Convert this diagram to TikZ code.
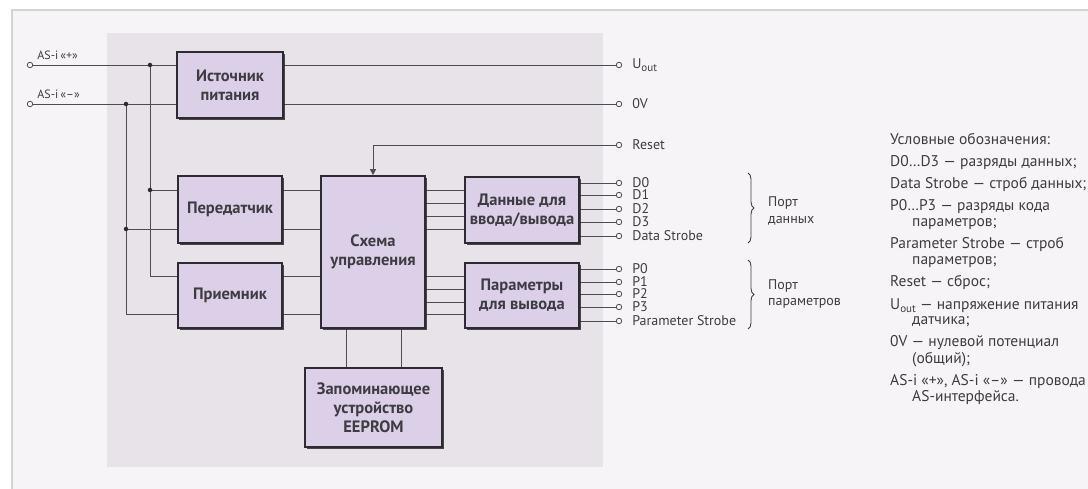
\documentclass[tikz,border=0pt]{standalone}
\usepackage{fontspec}
\setmainfont{PT Sans}
\usetikzlibrary{arrows.meta,positioning,decorations.pathreplacing,shadows}
\definecolor{pagebg}{RGB}{247,244,248}
\definecolor{framegray}{RGB}{214,210,216}
\definecolor{panelgray}{RGB}{231,227,233}
\definecolor{boxfill}{RGB}{220,207,232}
\definecolor{boxline}{RGB}{45,42,50}
\definecolor{wire}{RGB}{78,76,82}
\definecolor{inkgray}{RGB}{62,60,66}
\pgfdeclarelayer{bg}
\pgfdeclarelayer{wires}
\pgfsetlayers{bg,wires,main}
\tikzset{
  block/.style={rectangle, draw=boxline, line width=1.7pt, fill=boxfill,
                inner sep=2pt, align=center, text=inkgray,
                font=\fontsize{16.5}{19}\selectfont\bfseries,
                drop shadow={shadow xshift=2pt, shadow yshift=-2pt,
                             fill=boxline, opacity=0.85}},
  wireline/.style={draw=wire, line width=0.9pt},
  term/.style={circle, draw=wire, fill=pagebg, line width=0.8pt,
               inner sep=0pt, minimum size=5.5pt},
  junct/.style={circle, fill=boxline, inner sep=0pt, minimum size=4.5pt},
  pinlabel/.style={font=\fontsize{14}{14}\selectfont, text=inkgray, inner sep=0pt},
  aslabel/.style={font=\fontsize{12}{12}\selectfont, text=inkgray, inner sep=0pt},
  portlabel/.style={font=\fontsize{14}{17}\selectfont, text=inkgray,
                    align=left, anchor=west, inner sep=0pt},
  legline/.style={font=\fontsize{15.5}{17}\selectfont, text=inkgray,
                  anchor=base west, inner sep=0pt},
  portbrace/.style={draw=inkgray, line width=0.9pt, decorate,
                    decoration={brace, amplitude=6pt}},
}
\begin{document}
\begin{tikzpicture}[x=1pt, y=-1pt]
  \useasboundingbox (0,0) rectangle (1088,489);
  \clip (0,0) rectangle (1088,489);
  \begin{pgfonlayer}{bg}
    \fill[white] (0,0) rectangle (1088,489);
    \fill[pagebg] (12,10) rectangle (1100,500);
    \draw[framegray, line width=1.5pt] (12,500) -- (12,10) -- (1100,10);
    \fill[panelgray] (107,33) rectangle (603,467);
  \end{pgfonlayer}
  % blocks
  \node[block, minimum width=106pt, minimum height=66pt] (psu) at (230,85) {Источник\\питания};
  \node[block, minimum width=104pt, minimum height=67pt] (tx) at (230,209.5) {Передатчик};
  \node[block, minimum width=104pt, minimum height=65pt] (rx) at (230,295.5) {Приемник};
  \node[block, minimum width=104pt, minimum height=152pt] (ctrl) at (373,252) {Схема\\управления};
  \node[block, minimum width=114pt, minimum height=66pt] (dio) at (522,210) {Данные для\\ввода/вывода};
  \node[block, minimum width=114pt, minimum height=65pt] (par) at (522,295.5) {Параметры\\для вывода};
  \node[block, minimum width=137pt, minimum height=79pt] (mem) at (373.5,407.5) {Запоминающее\\устройство\\EEPROM};
  % terminals
  \node[term] (tplus) at (30,65) {};
  \node[term] (tminus) at (30,104) {};
  \node[term] (tuout) at (619,65) {};
  \node[term] (tzero) at (619,104) {};
  \node[term] (treset) at (619,145) {};
  \foreach \n/\y in {d0/183,d1/195,d2/209,d3/222,ds/236,p0/269,p1/282,p2/294,p3/307,ps/321}
    \node[term] (t\n) at (619,\y) {};
  % junctions
  \node[junct] (jplus) at (150,65) {};
  \node[junct] (jminus) at (126,104) {};
  \node[junct] (jtxa) at (150,190) {};
  \node[junct] (jtxb) at (126,229) {};
  \foreach \n/\y in {a1/190,a2/203,a3/216,a4/229,b1/276,b2/289,b3/302,b4/314}
    \coordinate (\n) at (0,\y);
  % wires
  \begin{pgfonlayer}{wires}
    \draw[wireline] (tplus) -- (tuout);
    \draw[wireline] (tminus) -- (tzero);
    \draw[wireline] (jplus) |- (ctrl.west |- b1);
    \draw[wireline] (jminus) |- (ctrl.west |- b4);
    \draw[wireline] (jtxa) -- (ctrl.west |- jtxa);
    \draw[wireline] (jtxb) -- (ctrl.west |- jtxb);
    \foreach \r in {a1,a2,a3,a4} \draw[wireline] (ctrl.east |- \r) -- (dio.west |- \r);
    \foreach \r in {b1,b2,b3,b4} \draw[wireline] (ctrl.east |- \r) -- (par.west |- \r);
    \foreach \n in {d0,d1,d2,d3,ds} \draw[wireline] (dio.east |- t\n) -- (t\n);
    \foreach \n in {p0,p1,p2,p3,ps} \draw[wireline] (par.east |- t\n) -- (t\n);
    \draw[wireline] ([xshift=-27pt]ctrl.south) -- ([xshift=-27pt]ctrl.south |- mem.north);
    \draw[wireline] ([xshift=28pt]ctrl.south) -- ([xshift=28pt]ctrl.south |- mem.north);
  \end{pgfonlayer}
  \draw[wireline, -{Triangle[length=6pt, width=6pt]}] (treset) -| (ctrl.north);
  % pin labels
  \node[aslabel, above right=3pt and 5pt of tplus] (lplus) {AS-i\,«+»};
  \node[aslabel, above right=3pt and 5pt of tminus] (lminus) {AS-i\,«–»};
  \node[pinlabel, right=10pt of tuout] (luout) {U\raisebox{-0.45ex}{\fontsize{11}{11}\selectfont out}};
  \node[pinlabel, right=10pt of tzero] (lzero) {0V};
  \node[pinlabel, right=10pt of treset] (lreset) {Reset};
  \foreach \n/\t in {d0/D0,d1/D1,d2/D2,d3/D3,ds/Data Strobe,p0/P0,p1/P1,p2/P2,p3/P3,ps/Parameter Strobe}
    \node[pinlabel, right=10pt of t\n] (l\n) {\t};
  % ports
  \coordinate (bdtop) at (748,173);
  \coordinate (bdbot) at (748,243);
  \coordinate (bptop) at (748,260);
  \coordinate (bpbot) at (748,329);
  \draw[portbrace] (bdtop) -- (bdbot);
  \draw[portbrace] (bptop) -- (bpbot);
  \node[portlabel] (pdata) at (768,211) {Порт\\данных};
  \node[portlabel] (ppar) at (768,294) {Порт\\параметров};
  % legend
  \foreach \y/\x/\t in {
      145/890/{Условные обозначения:},
      167/890/{D0…D3 — разряды данных;},
      189/890/{Data Strobe — строб данных;},
      211/890/{P0…P3 — разряды кода},
      227/912/{параметров;},
      249/890/{Parameter Strobe — строб},
      265/912/{параметров;},
      287/890/{Reset — сброс;},
      309/890/{U\raisebox{-0.45ex}{\fontsize{11}{11}\selectfont out} — напряжение питания},
      325/912/{датчика;},
      347/890/{0V — нулевой потенциал},
      363/912/{(общий);},
      385/890/{AS-i «+», AS-i «–» — провода},
      401/912/{AS-интерфейса.}}
    \node[legline] (leg\y) at (\x,\y) {\t};
\end{tikzpicture}
\end{document}
